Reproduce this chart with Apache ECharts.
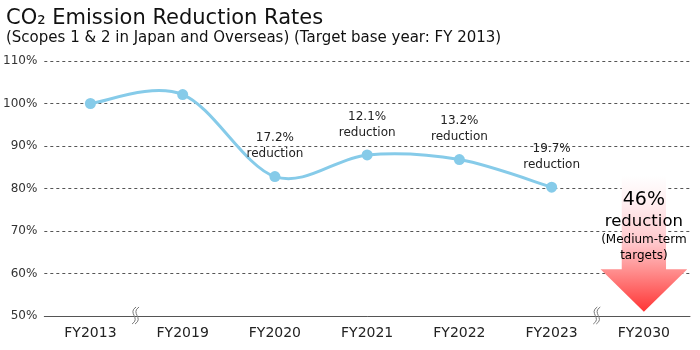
<!DOCTYPE html>
<html>
<head>
<meta charset="utf-8">
<script src="https://cdn.jsdelivr.net/npm/echarts@6/dist/echarts.min.js"></script>
<style>
  html, body { margin: 0; padding: 0; background: #fff; }
  #chart { width: 700px; height: 350px; }
</style>
</head>
<body>
<div id="chart"></div>
<script>
// chart data
var years = ['FY2013', 'FY2019', 'FY2020', 'FY2021', 'FY2022', 'FY2023', 'FY2030'];
var rates = [100, 102.1, 82.8, 87.9, 86.8, 80.3];
var pointLabels = ['', '', '17.2%\nreduction', '12.1%\nreduction', '13.2%\nreduction', '19.7%\nreduction'];
var yTicks = [50, 60, 70, 80, 90, 100, 110];
// target arrow at FY2030: [category index, top, head base, tip]
var targetArrow = [[6, 83, 61, 51]];
// axis breaks after these category indexes
var breakAfter = [[0, 50], [5, 50]];

var FONT = '"DejaVu Sans", "Noto Sans", sans-serif';
var LINE_COLOR = '#86cbe9';
var chart = echarts.init(document.getElementById('chart'));

// catmull-rom curve between point i and i+1, positions from the axes
function curveItem(params, api) {
  var i = api.value(0);
  if (i >= rates.length - 1) return null;
  function pt(j) {
    j = Math.max(0, Math.min(rates.length - 1, j));
    return api.coord([j, rates[j]]);
  }
  var p0 = pt(i - 1), p1 = pt(i), p2 = pt(i + 1), p3 = pt(i + 2);
  return {
    type: 'bezierCurve',
    shape: {
      x1: p1[0], y1: p1[1], x2: p2[0], y2: p2[1],
      cpx1: p1[0] + (p2[0] - p0[0]) / 6, cpy1: p1[1] + (p2[1] - p0[1]) / 6,
      cpx2: p2[0] - (p3[0] - p1[0]) / 6, cpy2: p2[1] - (p3[1] - p1[1]) / 6
    },
    style: { stroke: LINE_COLOR, lineWidth: 3, fill: null }
  };
}

chart.setOption({
  animation: false,
  textStyle: { fontFamily: FONT },
  title: {
    text: 'CO₂ Emission Reduction Rates',
    subtext: '(Scopes 1 & 2 in Japan and Overseas) (Target base year: FY 2013)',
    left: 1,
    top: 3,
    itemGap: 2,
    textStyle: { fontSize: 21, fontWeight: 'normal', color: '#111', fontFamily: FONT },
    subtextStyle: { fontSize: 15, fontWeight: 'normal', color: '#111', fontFamily: FONT }
  },
  grid: { left: 44, right: 10, top: 61, bottom: 34 },
  xAxis: {
    type: 'category',
    data: years,
    axisLine: { lineStyle: { color: '#555', width: 1 } },
    axisTick: { show: false },
    axisLabel: { fontSize: 14, color: '#222', margin: 10 }
  },
  yAxis: {
    type: 'value',
    min: yTicks[0],
    max: yTicks[yTicks.length - 1],
    interval: 10,
    axisLine: { show: false },
    axisTick: { show: false },
    axisLabel: { formatter: '{value}%', fontSize: 12, color: '#333', margin: 7 },
    splitLine: { lineStyle: { color: '#555', type: [3, 3], width: 1 } }
  },
  series: [
    {
      type: 'custom',
      data: rates.map(function (v, i) { return [i, v]; }),
      clip: false,
      z: 4,
      renderItem: curveItem
    },
    {
      type: 'line',
      data: rates.map(function (v, i) {
        return { value: v, label: { show: pointLabels[i] !== '', formatter: pointLabels[i] } };
      }),
      symbol: 'circle',
      symbolSize: 11,
      lineStyle: { width: 0, opacity: 0 },
      itemStyle: { color: LINE_COLOR },
      label: {
        position: 'top',
        distance: 9,
        fontSize: 12,
        lineHeight: 16,
        color: '#222'
      },
      z: 5
    },
    {
      type: 'custom',
      data: targetArrow,
      clip: false,
      z: 3,
      renderItem: function (params, api) {
        var top = api.coord([api.value(0), api.value(1)]);
        var base = api.coord([api.value(0), api.value(2)]);
        var tip = api.coord([api.value(0), api.value(3)]);
        var w = api.size([1, 0])[0];
        var sh = w * 0.24, hh = w * 0.47;
        var x = top[0];
        return {
          type: 'group',
          children: [
            {
              type: 'polygon',
              shape: {
                points: [
                  [x - sh, top[1]], [x + sh, top[1]], [x + sh, base[1]],
                  [x + hh, base[1]], [x, tip[1]], [x - hh, base[1]], [x - sh, base[1]]
                ]
              },
              style: {
                fill: new echarts.graphic.LinearGradient(0, 0, 0, 1, [
                  { offset: 0, color: '#ffffff' },
                  { offset: 0.2, color: '#ffeef0' },
                  { offset: 0.5, color: '#ffc6ca' },
                  { offset: 0.7, color: '#ff8e8e' },
                  { offset: 1, color: '#ff3434' }
                ])
              }
            },
            {
              type: 'text',
              x: x,
              y: top[1] + 14,
              style: {
                text: '{a|46%}\n{b|reduction}\n{c|(Medium-term}\n{c|targets)}',
                align: 'center',
                verticalAlign: 'top',
                fontFamily: FONT,
                rich: {
                  a: { fontSize: 19, lineHeight: 21, color: '#111', fontFamily: FONT },
                  b: { fontSize: 16.5, lineHeight: 21, color: '#111', fontFamily: FONT },
                  c: { fontSize: 12, lineHeight: 16, color: '#222', fontFamily: FONT }
                }
              }
            }
          ]
        };
      }
    },
    {
      type: 'custom',
      data: breakAfter,
      clip: false,
      z: 4,
      renderItem: function (params, api) {
        var p = api.coord([api.value(0), api.value(1)]);
        var w = api.size([1, 0])[0];
        var x = p[0] + w / 2 - 1, y = p[1];
        function s(dx) {
          return {
            type: 'bezierCurve',
            shape: {
              x1: x + dx + 2, y1: y - 9, x2: x + dx - 2, y2: y + 8,
              cpx1: x + dx - 7, cpy1: y - 3, cpx2: x + dx + 7, cpy2: y + 2
            },
            style: { stroke: '#777', lineWidth: 1, fill: null }
          };
        }
        return { type: 'group', children: [s(-1.5), s(1.5)] };
      }
    }
  ]
});
</script>
</body>
</html>
